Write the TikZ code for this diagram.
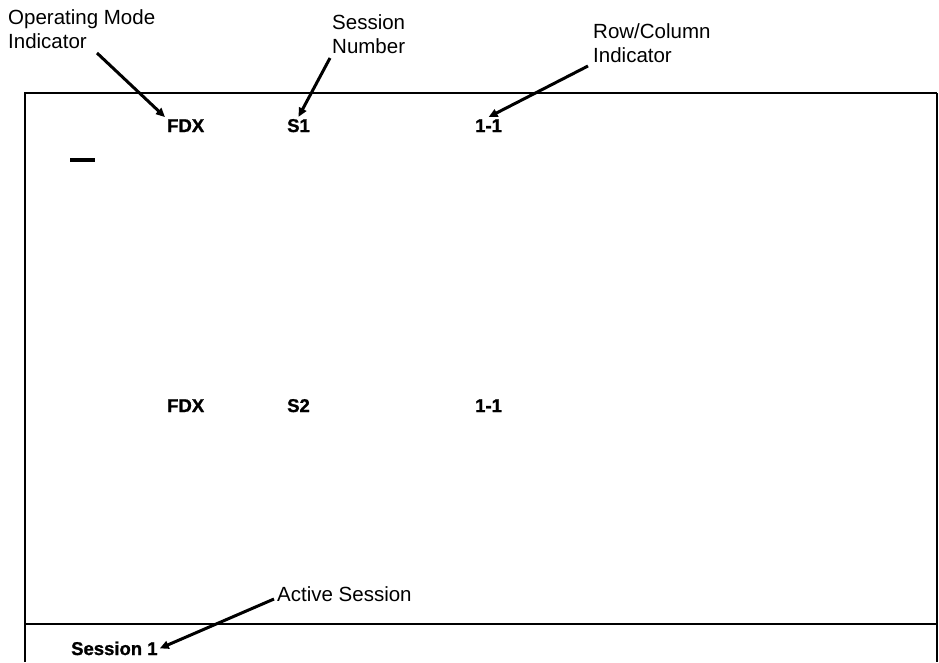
\documentclass[tikz,border=0pt]{standalone}
\usepackage{fontspec}
\setmainfont{Liberation Sans}
\newfontface\heavyface{Liberation Sans Bold}[FakeBold=1.2]
\usetikzlibrary{arrows.meta}
\begin{document}
\begin{tikzpicture}[x=1pt,y=-1pt,
  lbl/.style={anchor=north west,inner sep=0pt,align=left,
    font=\fontsize{20.5}{24}\selectfont},
  val/.style={anchor=base west,inner sep=2pt,
    font=\heavyface\fontsize{18.5}{22}\selectfont},
  ptr/.style={line width=3pt,-{Triangle[length=9pt,width=8pt]}},
  frame/.style={line width=1.3pt}]
\useasboundingbox (0,0) rectangle (939,662);
% screen frame
\draw[frame] (25,662) -- (25,93) -- (937,93);
\draw[line width=2pt] (937,93) -- (937,662);
\draw[frame] (25,624) -- (937,624);
% cursor
\fill (70,158) rectangle (95,162);
% labels
\node[lbl] (opm) at (8,9.5) {Operating Mode\\Indicator};
\node[lbl] (sn) at (332,14.5) {Session\\Number};
\node[lbl] (rci) at (593,23.5) {Row/Column\\Indicator};
\node[lbl] (act) at (277,586) {Active Session};
% values
\node[val] (fdx1) at (165,132) {FDX};
\node[val] (s1) at (285,132) {S1};
\node[val] (rc1) at (473,132) {1-1};
\node[val] (fdx2) at (165,412) {FDX};
\node[val] (s2) at (285,412) {S2};
\node[val] (rc2) at (473,412) {1-1};
\node[val] (sess) at (69,655) {Session 1};
% arrow tails
\coordinate (t1) at (97,53);
\coordinate (t2) at (330,58);
\coordinate (t3) at (588,66);
\coordinate (t4) at (274,599);
% arrows
\draw[ptr] (t1) -- (fdx1.north west);
\draw[ptr] (t2) -- (s1.north);
\draw[ptr] (t3) -- (rc1.north);
\draw[ptr] (t4) -- (sess.east);
\end{tikzpicture}
\end{document}
